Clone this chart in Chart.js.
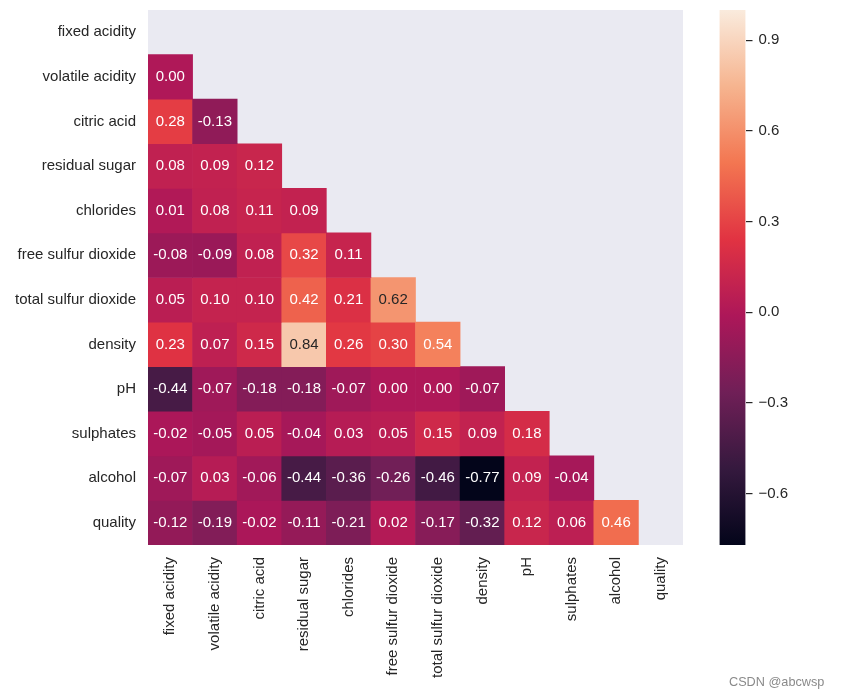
<!DOCTYPE html>
<html>
<head>
<meta charset="utf-8">
<script src="https://cdn.jsdelivr.net/npm/chart.js@4.4.1/dist/chart.umd.min.js"></script>
<style>
  html, body { margin: 0; padding: 0; background: #fff; }
  #wrap { position: relative; width: 842px; height: 698px; }
  #wrap canvas { position: absolute; left: 0; top: 0; }
  #mark { position: absolute; left: 729px; top: 675px; font: 12.7px "Liberation Sans", Arial, sans-serif; color: #8a8a8a; white-space: nowrap; }
</style>
</head>
<body>
<div id="wrap">
  <canvas id="heatmap" width="842" height="698"></canvas>
  <canvas id="colorbar" width="842" height="698"></canvas>
  <div id="mark">CSDN @abcwsp</div>
</div>
<script>
// Feature names (rows and columns of the matrix)
const features = ['fixed acidity', 'volatile acidity', 'citric acid', 'residual sugar', 'chlorides',
    'free sulfur dioxide', 'total sulfur dioxide', 'density', 'pH', 'sulphates', 'alcohol', 'quality'];

// Lower triangle of the correlation matrix, one array per row
const fixedAcidity = [];
const volatileAcidity = [0.00];
const citricAcid = [0.28, -0.13];
const residualSugar = [0.08, 0.09, 0.12];
const chlorides = [0.01, 0.08, 0.11, 0.09];
const freeSulfurDioxide = [-0.08, -0.09, 0.08, 0.32, 0.11];
const totalSulfurDioxide = [0.05, 0.10, 0.10, 0.42, 0.21, 0.62];
const density = [0.23, 0.07, 0.15, 0.84, 0.26, 0.30, 0.54];
const pH = [-0.44, -0.07, -0.18, -0.18, -0.07, 0.00, 0.00, -0.07];
const sulphates = [-0.02, -0.05, 0.05, -0.04, 0.03, 0.05, 0.15, 0.09, 0.18];
const alcohol = [-0.07, 0.03, -0.06, -0.44, -0.36, -0.26, -0.46, -0.77, 0.09, -0.04];
const quality = [-0.12, -0.19, -0.02, -0.11, -0.21, 0.02, -0.17, -0.32, 0.12, 0.06, 0.46];

const rows = [fixedAcidity, volatileAcidity, citricAcid, residualSugar, chlorides, freeSulfurDioxide,
    totalSulfurDioxide, density, pH, sulphates, alcohol, quality];

// Colour scale limits and colorbar ticks
const vmin = -0.77;
const vmax = 1.0;
const colorbarTicks = [-0.6, -0.3, 0.0, 0.3, 0.6, 0.9];

const FONT = '"Liberation Sans", Arial, sans-serif';
const TEXT = '#262626';

// Seaborn "rocket" colormap, approximated by a few stops
const rocketStops = ['#03051a', '#35193e', '#701f57', '#ad1759', '#e13342', '#f37651', '#f6b48f', '#faebdd'];

function hexToRgb(hex) {
    const n = parseInt(hex.slice(1), 16);
    return [(n >> 16) & 255, (n >> 8) & 255, n & 255];
}

function rocketRgb(t) {
    t = Math.max(0, Math.min(1, t));
    const pos = t * (rocketStops.length - 1);
    const i = Math.min(Math.floor(pos), rocketStops.length - 2);
    const f = pos - i;
    const a = hexToRgb(rocketStops[i]);
    const b = hexToRgb(rocketStops[i + 1]);
    return a.map((c, k) => Math.round(c + (b[k] - c) * f));
}

function colorFor(value) {
    const rgb = rocketRgb((value - vmin) / (vmax - vmin));
    return `rgb(${rgb[0]}, ${rgb[1]}, ${rgb[2]})`;
}

// Same rule seaborn uses to pick the annotation colour
function luminance(rgb) {
    const lin = rgb.map(c => {
        c = c / 255;
        return c <= 0.03928 ? c / 12.92 : Math.pow((c + 0.055) / 1.055, 2.4);
    });
    return 0.2126 * lin[0] + 0.7152 * lin[1] + 0.0722 * lin[2];
}

// Grey background behind the masked part of the heatmap
const plotBackground = {
    id: 'plotBackground',
    beforeDraw(chart) {
        const { ctx, chartArea } = chart;
        ctx.save();
        ctx.fillStyle = '#eaeaf2';
        ctx.fillRect(chartArea.left, chartArea.top, chartArea.right - chartArea.left, chartArea.bottom - chartArea.top);
        ctx.restore();
    }
};

// Write the value in the middle of every cell
const cellLabels = {
    id: 'cellLabels',
    afterDatasetsDraw(chart) {
        const ctx = chart.ctx;
        ctx.save();
        ctx.font = `15px ${FONT}`;
        ctx.textAlign = 'center';
        ctx.textBaseline = 'middle';
        chart.data.datasets.forEach((ds, i) => {
            const meta = chart.getDatasetMeta(i);
            meta.data.forEach((bar, j) => {
                if (j >= ds.values.length) return;
                const value = ds.values[j];
                const { x, y, base } = bar.getProps(['x', 'y', 'base'], true);
                const rgb = rocketRgb((value - vmin) / (vmax - vmin));
                ctx.fillStyle = luminance(rgb) > 0.408 ? TEXT : '#ffffff';
                ctx.fillText(value.toFixed(2), x, (y + base) / 2);
            });
        });
        ctx.restore();
    }
};

// One floating-bar dataset per row; each bar spans one row of the y scale
const datasets = rows.map((row, i) => ({
    label: features[i],
    values: row,
    data: features.map((_, j) => (j < row.length ? [i - 0.5, i + 0.5] : null)),
    backgroundColor: ctx => (ctx.dataIndex < row.length ? colorFor(row[ctx.dataIndex]) : 'rgba(0,0,0,0)'),
    borderWidth: 0,
    barPercentage: 1,
    categoryPercentage: 1,
    grouped: false
}));

new Chart(document.getElementById('heatmap'), {
    type: 'bar',
    data: { labels: features, datasets: datasets },
    options: {
        responsive: false,
        animation: false,
        devicePixelRatio: 1,
        layout: { padding: { left: 0, top: 10, right: 159, bottom: 0 } },
        plugins: { legend: { display: false }, tooltip: { enabled: false } },
        scales: {
            x: {
                type: 'category',
                grid: { display: false, drawTicks: false },
                border: { display: false },
                ticks: {
                    autoSkip: false,
                    minRotation: 90,
                    maxRotation: 90,
                    padding: 12,
                    color: TEXT,
                    font: { family: FONT, size: 15 }
                },
                afterFit(scale) {
                    scale.height = 153;
                    scale.paddingLeft = 0;
                    scale.paddingRight = 0;
                }
            },
            y: {
                type: 'linear',
                reverse: true,
                min: -0.5,
                max: 11.5,
                grid: { display: false, drawTicks: false },
                border: { display: false },
                afterBuildTicks(scale) {
                    scale.ticks = features.map((_, i) => ({ value: i }));
                },
                ticks: {
                    autoSkip: false,
                    padding: 12,
                    color: TEXT,
                    font: { family: FONT, size: 15 },
                    callback: value => features[value]
                },
                afterFit(scale) {
                    scale.width = 148;
                    scale.paddingTop = 0;
                    scale.paddingBottom = 0;
                }
            }
        }
    },
    plugins: [plotBackground, cellLabels]
});

// Colorbar: a single floating bar from vmin to vmax filled with the colormap
function colorbarFill(context) {
    const chart = context.chart;
    if (!chart.chartArea) return null;
    const y = chart.scales.y;
    const g = chart.ctx.createLinearGradient(0, y.getPixelForValue(vmin), 0, y.getPixelForValue(vmax));
    rocketStops.forEach((c, k) => g.addColorStop(k / (rocketStops.length - 1), c));
    return g;
}

function formatTick(v) {
    if (Math.abs(v) < 1e-9) return '0.0';
    return v < 0 ? '\u2212' + Math.abs(v).toFixed(1) : v.toFixed(1);
}

new Chart(document.getElementById('colorbar'), {
    type: 'bar',
    data: {
        labels: [''],
        datasets: [{
            data: [[vmin, vmax]],
            backgroundColor: colorbarFill,
            borderWidth: 0,
            barPercentage: 1,
            categoryPercentage: 1
        }]
    },
    options: {
        responsive: false,
        animation: false,
        devicePixelRatio: 1,
        layout: { padding: { left: 719.5, top: 10, right: 0, bottom: 153 } },
        plugins: { legend: { display: false }, tooltip: { enabled: false } },
        scales: {
            x: { display: false },
            y: {
                position: 'right',
                min: vmin,
                max: vmax,
                grid: { drawOnChartArea: false, drawTicks: true, tickLength: 7, color: TEXT, lineWidth: 1.2 },
                border: { display: false },
                afterBuildTicks(scale) {
                    scale.ticks = colorbarTicks.map(v => ({ value: v }));
                },
                ticks: {
                    padding: 6,
                    color: TEXT,
                    font: { family: FONT, size: 15 },
                    callback: value => formatTick(value)
                },
                afterFit(scale) {
                    scale.width = 96.5;
                    scale.paddingTop = 0;
                    scale.paddingBottom = 0;
                }
            }
        }
    }
});
</script>
</body>
</html>
